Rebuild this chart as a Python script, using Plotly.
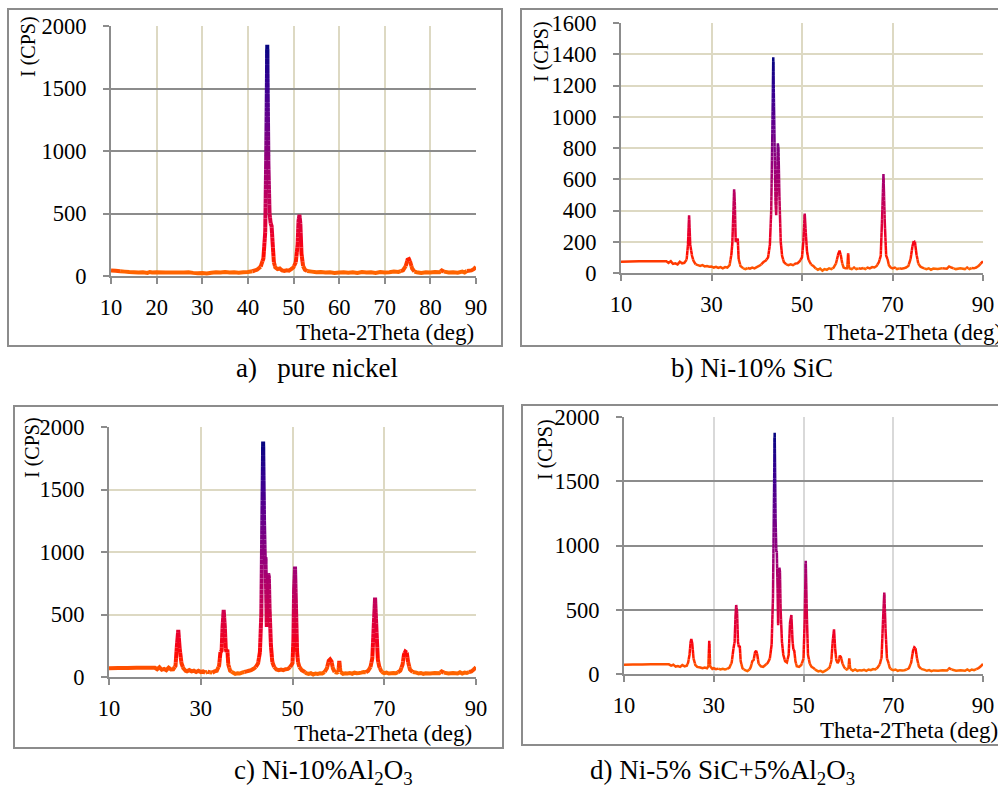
import math
import plotly.graph_objects as go

# ---------------- data: (2-theta deg, intensity CPS) ----------------
a_pts = [(10, 45), (11, 42), (12, 38), (13, 35), (14, 32), (15, 30), (16, 28), (17, 30), (18, 25), (18.5, 32), (19, 28),
         (20, 30), (22, 28), (24, 29), (26, 28), (27, 30), (28, 25), (29, 22), (30, 24), (31, 20), (32, 26), (33, 30),
         (34, 28), (35, 32), (36, 28), (37, 30), (38, 27), (39, 30), (40, 32), (41, 38), (42, 50), (42.8, 75),
         (43.4, 140), (43.8, 350), (44.0, 900), (44.25, 1850), (44.5, 900), (44.75, 500), (45.0, 420), (45.2, 400),
         (45.45, 250), (45.7, 110), (46.0, 70), (46.5, 55), (47, 60), (47.5, 45), (48, 40), (48.5, 45), (49, 42),
         (49.5, 55), (50, 70), (50.5, 110), (50.9, 250), (51.1, 440), (51.3, 490), (51.5, 420), (51.75, 180),
         (52.1, 80), (52.5, 50), (53, 40), (54, 35), (55, 30), (56, 32), (57, 28), (58, 30), (59, 25), (60, 28),
         (61, 30), (62, 26), (63, 30), (64, 24), (65, 32), (66, 28), (67, 30), (68, 25), (69, 32), (70, 28), (71, 30),
         (72, 35), (73, 32), (74, 45), (74.6, 80), (75.0, 130), (75.3, 135), (75.6, 110), (76.0, 60), (76.5, 35),
         (77, 30), (78, 25), (79, 30), (80, 28), (81, 32), (82, 30), (82.5, 45), (83, 35), (84, 28), (85, 30),
         (86, 27), (87, 35), (87.5, 28), (88, 40), (89, 45), (89.5, 55), (90, 72)]

b_pts = [(10, 72), (12, 74), (14, 75), (16, 76), (18, 76), (20, 76), (20.5, 65), (21, 75), (21.5, 58), (22, 62),
         (22.5, 55), (23, 72), (23.5, 62), (24, 65), (24.5, 85), (24.8, 180), (25.05, 370), (25.3, 180), (25.7, 110),
         (26, 80), (26.5, 55), (27, 50), (27.5, 45), (28, 50), (28.5, 42), (29, 45), (29.5, 40), (30, 42), (30.5, 35),
         (31, 40), (31.5, 33), (32, 38), (32.5, 30), (33, 38), (33.5, 35), (34, 50), (34.4, 120), (34.6, 190),
         (34.85, 400), (35.0, 535), (35.15, 450), (35.35, 200), (35.6, 210), (35.8, 220), (36.0, 90), (36.4, 45),
         (37, 30), (37.5, 25), (38, 32), (38.5, 28), (39, 35), (39.5, 30), (40, 38), (40.5, 45), (41, 55), (41.5, 70),
         (42, 80), (42.5, 100), (42.9, 180), (43.2, 400), (43.45, 900), (43.65, 1380), (43.85, 1000), (44.0, 700),
         (44.15, 450), (44.3, 370), (44.5, 600), (44.65, 830), (44.8, 800), (45.0, 500), (45.3, 200), (45.6, 110),
         (46.0, 70), (46.5, 55), (47, 50), (47.5, 55), (48, 50), (48.5, 60), (49, 62), (49.5, 75), (50.0, 100),
         (50.3, 200), (50.6, 380), (50.85, 250), (51.1, 140), (51.4, 90), (51.7, 70), (52, 55), (52.5, 45), (53, 30),
         (53.5, 20), (54, 28), (54.5, 15), (55, 25), (55.5, 20), (56, 30), (56.5, 25), (57, 35), (57.5, 60),
         (58.0, 120), (58.3, 143), (58.6, 110), (58.9, 60), (59.2, 35), (59.6, 30), (60.0, 30), (60.2, 126),
         (60.4, 30), (61, 25), (61.5, 35), (62, 25), (62.5, 30), (63, 28), (63.5, 32), (64, 25), (64.5, 35), (65, 30),
         (65.5, 38), (66, 35), (66.5, 45), (67.0, 70), (67.4, 110), (67.7, 350), (68.0, 634), (68.3, 320),
         (68.6, 110), (68.9, 90), (69.2, 50), (69.6, 35), (70, 30), (70.5, 35), (71, 25), (71.5, 30), (72, 28),
         (72.5, 30), (73, 35), (73.5, 45), (74.0, 90), (74.4, 170), (74.7, 205), (74.95, 200), (75.3, 120),
         (75.7, 60), (76.2, 40), (77, 30), (77.5, 25), (78, 30), (78.5, 20), (79, 28), (80, 25), (81, 30), (82, 28),
         (82.5, 42), (83, 35), (84, 25), (85, 30), (86, 25), (86.5, 35), (87, 25), (87.5, 32), (88, 30), (88.5, 35),
         (89, 45), (89.5, 60), (90, 75)]

c_pts = [(10, 70), (12, 72), (14, 73), (16, 74), (18, 74), (20, 74), (20.5, 62), (21, 78), (21.5, 58), (22, 65),
         (22.5, 55), (23, 75), (23.5, 60), (24, 62), (24.5, 90), (24.8, 250), (25.1, 376), (25.4, 230), (25.8, 110),
         (26.2, 70), (26.7, 50), (27, 45), (27.5, 55), (28, 45), (28.5, 50), (29, 40), (29.5, 50), (30, 40),
         (30.5, 45), (31, 35), (31.5, 42), (32, 38), (32.5, 35), (33, 45), (33.5, 50), (34.0, 90), (34.3, 200),
         (34.55, 210), (34.75, 400), (35.0, 536), (35.25, 400), (35.45, 230), (35.6, 200), (35.8, 220), (36.0, 100),
         (36.4, 50), (37, 35), (37.5, 25), (38, 30), (38.5, 28), (39, 35), (39.5, 40), (40, 45), (40.5, 50), (41, 55),
         (41.5, 65), (42, 80), (42.5, 110), (42.9, 200), (43.2, 500), (43.4, 1200), (43.6, 1883), (43.8, 1250),
         (44.0, 900), (44.1, 960), (44.25, 700), (44.4, 400), (44.55, 700), (44.7, 830), (44.85, 800), (45.0, 550),
         (45.3, 250), (45.6, 120), (46.0, 80), (46.5, 60), (47, 55), (47.5, 60), (48, 55), (48.5, 62), (49, 65),
         (49.5, 80), (50.0, 110), (50.2, 300), (50.35, 700), (50.55, 883), (50.8, 500), (51.0, 200), (51.2, 120),
         (51.5, 80), (52, 55), (52.5, 45), (53, 30), (53.5, 25), (54, 30), (54.5, 20), (55, 28), (55.5, 25), (56, 30),
         (56.5, 28), (57, 40), (57.5, 70), (57.9, 130), (58.2, 141), (58.5, 125), (58.8, 70), (59.2, 40), (59.7, 35),
         (60.0, 40), (60.2, 128), (60.45, 40), (61, 25), (61.5, 30), (62, 28), (62.5, 32), (63, 25), (63.5, 35),
         (64, 30), (64.5, 32), (65, 35), (65.5, 40), (66, 38), (66.5, 50), (67.0, 80), (67.4, 150), (67.7, 400),
         (68.0, 635), (68.3, 380), (68.6, 140), (68.9, 85), (69.3, 50), (69.7, 35), (70, 30), (70.5, 35), (71, 28),
         (71.5, 30), (72, 32), (72.5, 30), (73, 38), (73.5, 50), (74.0, 100), (74.3, 180), (74.6, 203), (74.9, 195),
         (75.2, 120), (75.6, 60), (76.2, 40), (77, 35), (77.5, 28), (78, 32), (78.5, 25), (79, 30), (80, 28), (81, 32),
         (82, 30), (82.5, 45), (83, 35), (84, 28), (85, 32), (86, 28), (86.5, 38), (87, 28), (87.5, 35), (88, 32),
         (88.5, 40), (89, 45), (89.5, 60), (90, 78)]

d_pts = [(10, 72), (12, 73), (14, 74), (16, 75), (18, 75), (20, 75), (20.5, 65), (21, 72), (21.5, 58), (22, 62),
         (22.5, 55), (23, 70), (23.5, 60), (24, 65), (24.3, 90), (24.6, 150), (24.85, 250), (25.0, 272), (25.2, 240),
         (25.5, 120), (25.9, 70), (26.3, 55), (27, 50), (27.5, 45), (28, 50), (28.5, 45), (28.8, 60), (29.0, 259),
         (29.2, 60), (29.7, 40), (30, 45), (30.5, 38), (31, 42), (31.5, 35), (32, 40), (32.5, 35), (33, 40),
         (33.5, 50), (34.0, 90), (34.4, 200), (34.65, 250), (34.85, 450), (35.0, 537), (35.2, 480), (35.4, 250),
         (35.6, 210), (35.8, 220), (36.0, 100), (36.4, 45), (37, 30), (37.5, 22), (38, 35), (38.3, 60), (38.6, 100),
         (38.9, 110), (39.2, 170), (39.45, 181), (39.7, 150), (40.0, 80), (40.5, 60), (41, 55), (41.5, 70), (42, 85),
         (42.5, 120), (42.9, 230), (43.2, 600), (43.4, 1300), (43.58, 1878), (43.78, 1200), (43.95, 950),
         (44.05, 957), (44.2, 700), (44.35, 380), (44.5, 700), (44.6, 827), (44.75, 800), (44.9, 500), (45.2, 250),
         (45.5, 150), (45.9, 100), (46.3, 90), (46.7, 150), (47.0, 400), (47.3, 459), (47.55, 260), (47.75, 190),
         (47.95, 180), (48.2, 100), (48.5, 60), (49, 55), (49.5, 70), (50.0, 120), (50.25, 400), (50.5, 882),
         (50.75, 450), (51.0, 150), (51.4, 80), (51.8, 55), (52.3, 45), (52.8, 30), (53.3, 20), (53.8, 25),
         (54.3, 15), (54.8, 25), (55.3, 35), (55.8, 50), (56.2, 100), (56.5, 250), (56.8, 348), (57.05, 200),
         (57.3, 110), (57.6, 85), (57.85, 100), (58.1, 143), (58.35, 130), (58.7, 80), (59.1, 50), (59.6, 35),
         (60.0, 40), (60.2, 122), (60.4, 40), (61, 25), (61.5, 35), (62, 25), (62.5, 30), (63, 28), (63.5, 32),
         (64, 25), (64.5, 35), (65, 30), (65.5, 38), (66, 35), (66.5, 50), (67.0, 75), (67.4, 130), (67.7, 400),
         (68.0, 633), (68.3, 330), (68.6, 120), (68.9, 90), (69.2, 50), (69.6, 35), (70, 30), (70.5, 35), (71, 25),
         (71.5, 30), (72, 28), (72.5, 30), (73, 35), (73.5, 45), (74.0, 90), (74.4, 180), (74.7, 207), (74.95, 200),
         (75.3, 120), (75.7, 60), (76.2, 40), (77, 32), (77.5, 25), (78, 30), (78.5, 22), (79, 28), (80, 25),
         (81, 30), (82, 28), (82.5, 45), (83, 35), (84, 25), (85, 30), (86, 25), (86.5, 35), (87, 25), (87.5, 35),
         (88, 30), (88.5, 38), (89, 45), (89.5, 60), (90, 78)]

x_ticks_a = [10, 20, 30, 40, 50, 60, 70, 80, 90]
x_ticks_bcd = [10, 30, 50, 70, 90]
y_ticks_2000 = [0, 500, 1000, 1500, 2000]
y_ticks_1600 = [0, 200, 400, 600, 800, 1000, 1200, 1400, 1600]

panel_titles = ["a)\u00a0\u00a0 pure nickel", "b) Ni-10% SiC",
                "c) Ni-10%Al<sub>2</sub>O<sub>3</sub>", "d) Ni-5% SiC+5%Al<sub>2</sub>O<sub>3</sub>"]
y_label = "I (CPS)"
x_label = "Theta-2Theta (deg)"

# ---------------- styling ----------------
W, H = 998, 788
FONT = "'Liberation Serif', 'Times New Roman', Times, serif"
BEIGE = "#ddd9c3"
GRAY = "#8c8c8c"
LGRAY = "#d9d9d9"

STOPS = [(0.00, (255, 110, 0)), (0.04, (255, 70, 0)), (0.09, (255, 12, 0)), (0.16, (240, 0, 35)),
         (0.30, (200, 0, 85)), (0.48, (155, 0, 120)), (0.68, (100, 0, 140)), (0.85, (50, 0, 145)),
         (1.00, (5, 5, 128))]


def color_at(t):
    t = max(0.0, min(1.0, t))
    for (t0, c0), (t1, c1) in zip(STOPS[:-1], STOPS[1:]):
        if t <= t1:
            f = (t - t0) / (t1 - t0) if t1 > t0 else 0
            c = [round(c0[i] + (c1[i] - c0[i]) * f) for i in range(3)]
            return "rgb(%d,%d,%d)" % tuple(c)
    return "rgb(%d,%d,%d)" % STOPS[-1][1]


def px(xp):
    return xp / W


def py(yp):
    return 1 - yp / H


fig = go.Figure()


def add_gradient_line(pts, xa, ya, width):
    xs = [p[0] for p in pts]
    ys = [p[1] for p in pts]
    ymax = max(ys)
    nb = 48
    runs = []
    cur = None
    step = ymax / 150.0
    for i in range(len(xs) - 1):
        x0, y0, x1, y1 = xs[i], ys[i], xs[i + 1], ys[i + 1]
        n = max(1, int(math.ceil(abs(y1 - y0) / step)))
        for k in range(n):
            xa0 = x0 + (x1 - x0) * k / n
            ya0 = y0 + (y1 - y0) * k / n
            xb = x0 + (x1 - x0) * (k + 1) / n
            yb = y0 + (y1 - y0) * (k + 1) / n
            t = ((ya0 + yb) / 2) / ymax
            b = min(nb - 1, int(t * nb))
            if b != cur:
                runs.append([b, [xa0], [ya0]])
                cur = b
            runs[-1][1].append(xb)
            runs[-1][2].append(yb)
    bins = {}
    for b, rx, ry in runs:
        bx, by = bins.setdefault(b, ([], []))
        if bx:
            bx.append(None)
            by.append(None)
        bx.extend(rx)
        by.extend(ry)
    for b in sorted(bins):
        bx, by = bins[b]
        fig.add_trace(go.Scatter(x=bx, y=by, mode="lines", xaxis=xa, yaxis=ya,
                                 line=dict(color=color_at((b + 0.5) / nb), width=width, simplify=False),
                                 hoverinfo="skip", showlegend=False))


panels = [
    dict(pts=a_pts, dom=(111, 476, 276, 26), yr=2000, xt=x_ticks_a, yt=y_ticks_2000,
         vgrid=BEIGE, hgrid=GRAY, lw=4, border=(8, 502, 9, 346),
         title=(317, 368), ylab=(28, 47), xlab=(476, 332, "right")),
    dict(pts=b_pts, dom=(621, 983, 273, 23), yr=1600, xt=x_ticks_bcd, yt=y_ticks_1600,
         vgrid=BEIGE, hgrid=BEIGE, lw=2.5, border=(521, 1010, 9, 346),
         title=(752, 368), ylab=(542, 52), xlab=(822, 332, "left")),
    dict(pts=c_pts, dom=(109, 476, 677, 427), yr=2000, xt=x_ticks_bcd, yt=y_ticks_2000,
         vgrid=BEIGE, hgrid=BEIGE, lw=4, border=(14, 503, 406, 748),
         title=(323, 772), ylab=(32, 447), xlab=(292, 733, "left")),
    dict(pts=d_pts, dom=(624, 983, 674, 417), yr=2000, xt=x_ticks_bcd, yt=y_ticks_2000,
         vgrid=LGRAY, hgrid=GRAY, lw=2.5, border=(522, 1010, 405, 745),
         title=(722, 772), ylab=(545, 450), xlab=(818, 730, "left")),
]

annotations = []
shapes = []
for i, p in enumerate(panels):
    n = "" if i == 0 else str(i + 1)
    xa, ya = "x" + n, "y" + n
    add_gradient_line(p["pts"], xa, ya, p["lw"])
    x0, x1, yb, yt = p["dom"]
    tickfont = dict(family=FONT, size=22.5, color="black")
    fig.layout["xaxis" + n] = dict(domain=[px(x0), px(x1)], anchor=ya, range=[10, 90],
                                   tickmode="array", tickvals=p["xt"], ticktext=[str(v) for v in p["xt"]],
                                   showgrid=True, gridcolor=p["vgrid"], gridwidth=2,
                                   showline=True, linecolor=GRAY, linewidth=2,
                                   ticks="outside", ticklen=6, tickcolor=GRAY, tickwidth=1.5,
                                   ticklabelstandoff=4, automargin=False,
                                   zeroline=False, tickfont=tickfont, fixedrange=True)
    fig.layout["yaxis" + n] = dict(domain=[py(yb), py(yt)], anchor=xa, range=[0, p["yr"]],
                                   tickmode="array", tickvals=p["yt"], ticktext=[str(v) for v in p["yt"]],
                                   showgrid=True, gridcolor=p["hgrid"], gridwidth=2,
                                   showline=True, linecolor=GRAY, linewidth=2,
                                   ticks="outside", ticklen=6, tickcolor=GRAY, tickwidth=1.5,
                                   ticklabelstandoff=12, automargin=False,
                                   zeroline=False, tickfont=tickfont, fixedrange=True)
    bx0, bx1, by0, by1 = p["border"]
    shapes.append(dict(type="rect", xref="paper", yref="paper", x0=px(bx0), x1=px(bx1),
                       y0=py(by1), y1=py(by0), line=dict(color=GRAY, width=2), layer="below"))
    tx, ty = p["title"]
    annotations.append(dict(text=panel_titles[i], xref="paper", yref="paper", x=px(tx), y=py(ty),
                            xanchor="center", yanchor="middle", showarrow=False,
                            font=dict(family=FONT, size=27, color="black")))
    lx, ly = p["ylab"]
    annotations.append(dict(text=y_label, xref="paper", yref="paper", x=px(lx), y=py(ly),
                            xanchor="center", yanchor="middle", showarrow=False, textangle=-90,
                            font=dict(family=FONT, size=20, color="black")))
    xx, xy, anc = p["xlab"]
    annotations.append(dict(text=x_label, xref="paper", yref="paper", x=px(xx), y=py(xy),
                            xanchor=anc, yanchor="middle", showarrow=False,
                            font=dict(family=FONT, size=23, color="black")))

fig.update_layout(width=W, height=H, margin=dict(l=0, r=0, t=0, b=0, pad=0, autoexpand=False),
                  paper_bgcolor="white", plot_bgcolor="white", showlegend=False,
                  font=dict(family=FONT, color="black"),
                  annotations=annotations, shapes=shapes)

fig.write_html("out.html", config={"displayModeBar": False, "responsive": False},
               post_script="document.body.style.margin='0px';document.body.style.overflow='hidden';")
